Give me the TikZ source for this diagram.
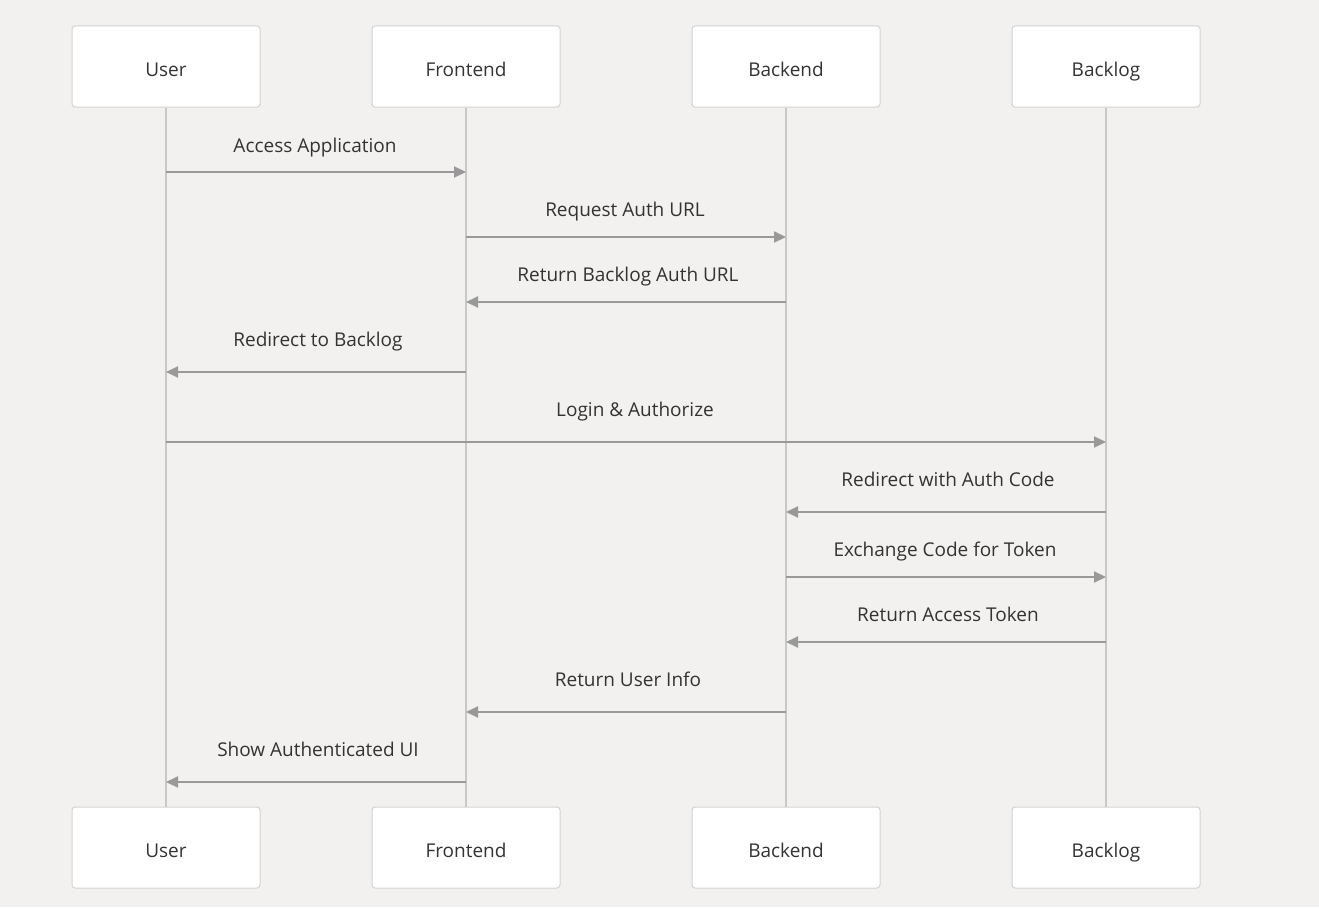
\documentclass[tikz,border=0pt]{standalone}
\usepackage{fontspec}
\setmainfont{Open Sans}
\usetikzlibrary{arrows.meta}
\definecolor{bgcol}{HTML}{F2F1EF}
\definecolor{boxline}{HTML}{D3D3D3}
\definecolor{lifecol}{HTML}{C8C8C8}
\definecolor{msgcol}{HTML}{999999}
\definecolor{txtcol}{HTML}{333333}
\tikzset{
  actor/.style={draw=boxline,fill=white,rounded corners=3pt,line width=1pt,
    minimum width=188pt,minimum height=81pt,inner sep=0pt,
    text height=19pt,text depth=0pt,
    text=txtcol,font=\fontsize{19}{22}\selectfont},
  lifeline/.style={draw=lifecol,line width=2pt},
  msg/.style={draw=msgcol,line width=2pt,-{Triangle[length=12pt,width=11pt]}},
  msglabel/.style={text=txtcol,font=\fontsize{19}{22}\selectfont,inner sep=0pt,anchor=base}
}
\begin{document}
\begin{tikzpicture}[scale=1.000000,x=1pt,y=-1pt]
\fill[color=bgcol] (0.000000, 0.000000) rectangle (1319.000000, 907.000000);
\useasboundingbox (0.000000, 0.000000) rectangle (1319.000000, 907.000000);
% Drawing participants
\node[actor] (userTop) at (166.000000, 66.500000) {User};
\node[actor] (frontTop) at (466.000000, 66.500000) {Frontend};
\node[actor] (backTop) at (786.000000, 66.500000) {Backend};
\node[actor] (logTop) at (1106.000000, 66.500000) {Backlog};
\node[actor] (userBot) at (166.000000, 847.500000) {User};
\node[actor] (frontBot) at (466.000000, 847.500000) {Frontend};
\node[actor] (backBot) at (786.000000, 847.500000) {Backend};
\node[actor] (logBot) at (1106.000000, 847.500000) {Backlog};
% Drawing lifelines
\draw[lifeline] (userTop.south) -- (userBot.north);
\draw[lifeline] (frontTop.south) -- (frontBot.north);
\draw[lifeline] (backTop.south) -- (backBot.north);
\draw[lifeline] (logTop.south) -- (logBot.north);
% Done with lifelines; drawing messages
% Message 1: User -> Frontend
\draw[msg] (userTop |- 0,172) -- (frontTop |- 0,172);
\node[msglabel] (m1) at (315.000000, 152.000000) {Access Application};
% Message 2: Frontend -> Backend
\draw[msg] (frontTop |- 0,237) -- (backTop |- 0,237);
\node[msglabel] (m2) at (625.000000, 216.000000) {Request Auth URL};
% Message 3: Backend -> Frontend
\draw[msg] (backTop |- 0,302) -- (frontTop |- 0,302);
\node[msglabel] (m3) at (628.000000, 281.000000) {Return Backlog Auth URL};
% Message 4: Frontend -> User
\draw[msg] (frontTop |- 0,372) -- (userTop |- 0,372);
\node[msglabel] (m4) at (318.000000, 346.000000) {Redirect to Backlog};
% Message 5: User -> Backlog
\draw[msg] (userTop |- 0,442) -- (logTop |- 0,442);
\node[msglabel] (m5) at (635.000000, 416.000000) {Login \& Authorize};
% Message 6: Backlog -> Backend
\draw[msg] (logTop |- 0,512) -- (backTop |- 0,512);
\node[msglabel] (m6) at (948.000000, 486.000000) {Redirect with Auth Code};
% Message 7: Backend -> Backlog
\draw[msg] (backTop |- 0,577) -- (logTop |- 0,577);
\node[msglabel] (m7) at (945.000000, 556.000000) {Exchange Code for Token};
% Message 8: Backlog -> Backend
\draw[msg] (logTop |- 0,642) -- (backTop |- 0,642);
\node[msglabel] (m8) at (948.000000, 621.000000) {Return Access Token};
% Message 9: Backend -> Frontend
\draw[msg] (backTop |- 0,712) -- (frontTop |- 0,712);
\node[msglabel] (m9) at (628.000000, 686.000000) {Return User Info};
% Message 10: Frontend -> User
\draw[msg] (frontTop |- 0,782) -- (userTop |- 0,782);
\node[msglabel] (m10) at (318.000000, 756.000000) {Show Authenticated UI};
% Done with messages
\end{tikzpicture}
\end{document}
